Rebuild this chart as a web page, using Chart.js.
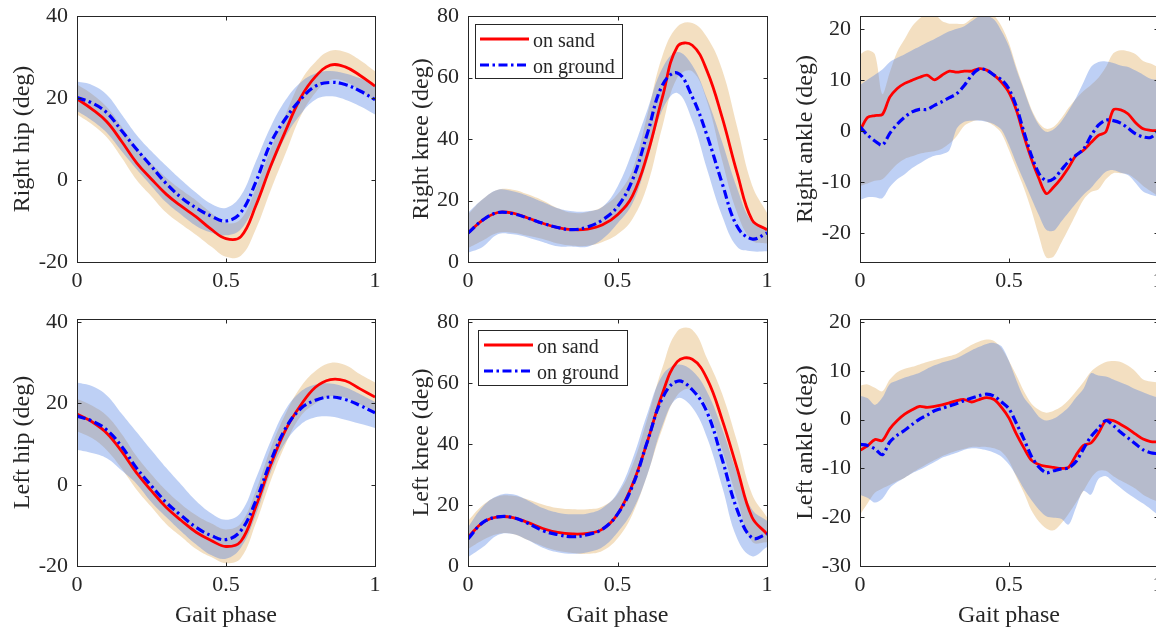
<!DOCTYPE html>
<html><head><meta charset="utf-8">
<script src="https://cdn.jsdelivr.net/npm/chart.js@4.4.1/dist/chart.umd.min.js"></script>
<style>
html,body{margin:0;padding:0;background:#fff;overflow:hidden;width:1156px;height:631px;position:relative}
canvas{position:absolute}
</style></head><body>
<script>
// ---------- data ----------
const phase21 = [0,0.05,0.1,0.15,0.2,0.25,0.3,0.35,0.4,0.45,0.5,0.55,0.6,0.65,0.7,0.75,0.8,0.85,0.9,0.95,1];
const phase41 = [0,0.025,0.05,0.075,0.1,0.125,0.15,0.175,0.2,0.225,0.25,0.275,0.3,0.325,0.35,0.375,0.4,0.425,0.45,0.475,0.5,0.525,0.55,0.575,0.6,0.625,0.65,0.675,0.7,0.725,0.75,0.775,0.8,0.825,0.85,0.875,0.9,0.925,0.95,0.975,1];
const xTickValues = [0, 0.5, 1];
const xTickLabels = ['0', '0.5', '1'];
const seriesLabels = ['on sand', 'on ground'];
const yTitles = ['Right hip (deg)', 'Right knee (deg)', 'Right ankle (deg)', 'Left hip (deg)', 'Left knee (deg)', 'Left ankle (deg)'];
const xTitleText = 'Gait phase';
const hipTicks = [-20, 0, 20, 40];
const kneeTicks = [0, 20, 40, 60, 80];
const rAnkleTicks = [-20, -10, 0, 10, 20];
const lAnkleTicks = [-30, -20, -10, 0, 10, 20];
const yRanges = [[-20, 40], [0, 80], [-25.7, 22.5], [-20, 40.8], [0, 81], [-30, 20.6]];

// Right hip
const rHipSand     = [19.8, 17.3, 14.2, 9.4, 4.2, 0.2, -3.5, -6.4, -9.0, -12.0, -14.3, -13.8, -6.3, 3.4, 12.0, 20.0, 25.2, 28.0, 27.6, 25.5, 22.9];
const rHipSandHi   = [23.3, 21.0, 17.8, 13.0, 8.0, 4.0, 0.5, -2.4, -5.0, -8.0, -10.5, -9.5, -2.0, 7.5, 16.0, 24.0, 28.8, 31.5, 31.2, 29.2, 26.5];
const rHipSandLo   = [16.0, 13.6, 10.4, 5.4, 0.0, -4.0, -8.0, -10.8, -13.4, -16.2, -18.7, -18.5, -12.0, -2.5, 6.5, 15.5, 21.3, 24.4, 24.0, 21.8, 19.3];
const rHipGround   = [20.1, 18.8, 16.4, 12.0, 7.5, 3.3, -0.9, -4.3, -6.8, -8.8, -10.0, -7.9, -0.5, 9.0, 15.0, 19.6, 22.9, 23.8, 23.3, 21.7, 19.6];
const rHipGroundHi = [24.0, 23.2, 20.8, 16.0, 11.0, 7.0, 3.4, 0.0, -3.1, -5.8, -6.8, -3.8, 4.5, 13.0, 19.5, 23.8, 26.0, 26.6, 26.0, 24.8, 23.2];
const rHipGroundLo = [16.8, 14.5, 11.5, 7.0, 2.6, -1.5, -5.5, -8.5, -11.2, -12.8, -13.5, -12.0, -5.6, 2.5, 10.6, 16.0, 19.6, 20.4, 19.6, 18.0, 16.0];

// Right knee
const rKneeSand     = [9.4, 13.7, 16.1, 15.9, 14.3, 12.6, 11.2, 10.5, 10.7, 12.1, 15.4, 21.5, 35.0, 53.5, 70.0, 70.5, 62.0, 47.0, 29.0, 13.7, 10.5];
const rKneeSandHi   = [15.5, 20.5, 23.5, 23.5, 22.0, 20.0, 17.5, 16.0, 16.3, 18.0, 22.0, 30.0, 48.0, 67.0, 76.5, 77.7, 73.0, 62.5, 44.0, 25.0, 16.0];
const rKneeSandLo   = [4.5, 7.0, 9.5, 9.5, 8.5, 7.5, 6.0, 5.3, 5.3, 6.5, 9.0, 14.0, 25.0, 44.0, 60.0, 62.0, 52.0, 33.0, 16.0, 7.0, 6.0];
const rKneeGround   = [9.4, 13.7, 16.1, 15.7, 14.3, 12.6, 11.2, 10.5, 11.4, 13.7, 18.0, 26.7, 41.8, 57.5, 61.5, 53.7, 41.0, 25.6, 11.6, 7.5, 9.4];
const rKneeGroundHi = [16.0, 20.5, 23.5, 23.0, 21.5, 19.5, 17.5, 16.5, 16.5, 18.0, 24.5, 36.0, 49.5, 63.0, 68.3, 64.0, 53.0, 39.0, 24.0, 13.0, 11.0];
const rKneeGroundLo = [3.0, 5.0, 9.0, 9.0, 8.0, 6.5, 5.1, 5.0, 5.0, 7.5, 12.5, 19.0, 33.0, 49.5, 55.0, 46.0, 30.0, 15.0, 5.0, 3.5, 3.5];

// Right ankle
const rAnkleSand     = [0, 2.6, 3.0, 3.2, 6.6, 8.3, 9.3, 9.9, 10.5, 10.9, 10.0, 10.9, 11.7, 11.5, 11.7, 11.7, 12.2, 11.9, 10.9, 9.5, 7.5, 4.0, -1.0, -5.5, -9.3, -12.3, -11.0, -9.3, -7.2, -4.8, -3.8, -2.3, -0.9, -0.2, 4.1, 4.1, 3.3, 1.6, 0.4, 0.1, 0];
const rAnkleSandHi   = [15.0, 15.8, 15.0, 7.2, 11.5, 15.5, 18.0, 20.5, 22.0, 23.0, 23.0, 21.5, 21.0, 21.0, 21.0, 22.0, 23.0, 23.0, 22.5, 20.5, 17.2, 12.5, 8.3, 4.3, 1.6, 0.4, 0.8, 2.4, 4.5, 6.3, 7.8, 9.0, 10.4, 12.5, 15.2, 15.8, 15.6, 15.0, 13.7, 13.2, 12.5];
const rAnkleSandLo   = [-10.8, -10.3, -9.8, -9.5, -8.0, -6.5, -5.5, -5.0, -4.5, -4.2, -4.0, -3.5, -2.5, -1.0, 1.0, 1.8, 2.1, 1.8, 1.0, -0.5, -3.8, -7.5, -11.2, -15.5, -20.5, -24.8, -24.6, -22.0, -19.2, -16.3, -13.5, -12.0, -11.5, -9.5, -8.3, -8.3, -8.5, -9.5, -10.8, -11.8, -12.8];
const rAnkleGround   = [0.8, -0.8, -2.0, -2.8, -0.5, 1.3, 2.7, 3.7, 4.2, 4.2, 5.0, 5.7, 6.5, 7.3, 8.9, 10.9, 12.1, 11.9, 10.9, 10.0, 8.2, 4.7, -0.2, -4.8, -8.3, -9.8, -9.4, -7.7, -6.0, -4.8, -3.6, -1.0, 1.1, 2.1, 2.0, 1.5, 0.5, -0.6, -1.2, -1.3, -0.3];
const rAnkleGroundHi = [9.0, 10.0, 11.0, 12.0, 13.5, 14.3, 15.0, 15.8, 16.5, 17.3, 18.0, 18.8, 19.5, 20.0, 20.5, 21.5, 22.4, 22.5, 21.8, 19.5, 16.5, 12.0, 8.0, 4.0, 1.2, -0.2, 0.3, 1.8, 4.0, 6.5, 9.5, 12.5, 13.5, 13.6, 13.3, 12.8, 12.5, 11.8, 11.0, 10.2, 10.0];
const rAnkleGroundLo = [-13.5, -13.0, -13.0, -13.2, -11.0, -9.5, -8.5, -7.3, -6.4, -5.5, -4.9, -4.6, -3.8, 0.5, 1.8, 2.0, 2.0, 1.8, 1.3, 0.2, -2.8, -6.4, -9.8, -13.2, -16.5, -19.4, -19.6, -17.8, -16.0, -14.2, -12.5, -11.2, -9.5, -8.0, -7.7, -8.2, -8.7, -10.2, -11.9, -12.5, -12.9];

// Left hip
const lHipSand     = [17.4, 15.5, 12.7, 8.2, 2.9, -1.5, -5.6, -8.8, -11.7, -13.7, -15.2, -13.9, -5.4, 4.9, 13.5, 19.5, 24.0, 25.9, 25.6, 23.6, 21.6];
const lHipSandHi   = [21.2, 19.5, 17.0, 12.5, 7.0, 2.5, -1.5, -4.8, -7.5, -9.5, -11.0, -9.5, -1.5, 9.0, 17.5, 24.0, 28.0, 30.0, 29.5, 27.2, 25.2];
const lHipSandLo   = [13.2, 11.5, 8.5, 4.0, -1.2, -5.5, -9.7, -12.8, -15.8, -17.8, -19.3, -18.0, -9.5, 1.0, 10.0, 16.8, 20.0, 21.8, 21.5, 19.8, 18.0];
const lHipGround   = [16.9, 15.7, 13.5, 9.4, 4.1, -0.3, -4.4, -7.6, -10.5, -12.5, -13.5, -11.3, -4.0, 5.8, 13.9, 18.7, 20.8, 21.6, 21.0, 19.5, 17.7];
const lHipGroundHi = [25.2, 24.3, 22.0, 17.5, 13.0, 8.5, 4.1, 0.0, -4.0, -7.0, -8.6, -6.8, 1.5, 10.8, 18.5, 22.9, 24.7, 24.9, 24.0, 22.3, 20.4];
const lHipGroundLo = [8.6, 7.8, 6.5, 3.5, 0.2, -4.3, -8.0, -11.5, -14.7, -17.3, -18.2, -15.5, -7.5, 3.0, 10.5, 14.8, 16.6, 16.8, 16.0, 15.0, 14.0];

// Left knee
const lKneeSand     = [9.4, 14.3, 16.1, 15.9, 14.3, 12.3, 11.0, 10.5, 10.7, 12.1, 17.0, 26.7, 40.8, 56.5, 67.0, 67.8, 61.3, 48.0, 32.0, 16.0, 10.5];
const lKneeSandHi   = [14.8, 20.0, 22.8, 23.0, 21.8, 20.2, 19.0, 18.6, 18.6, 19.5, 23.5, 33.0, 48.4, 65.0, 77.0, 77.5, 68.0, 56.5, 40.8, 23.5, 16.0];
const lKneeSandLo   = [5.5, 8.5, 10.5, 10.5, 8.5, 6.5, 5.0, 4.3, 4.0, 5.0, 9.0, 17.0, 30.0, 45.0, 56.0, 58.0, 52.0, 38.0, 22.0, 8.0, 7.8];
const lKneeGround   = [8.9, 14.3, 16.1, 15.9, 14.0, 11.6, 10.3, 9.6, 10.3, 12.1, 17.0, 26.2, 40.8, 55.0, 60.6, 57.8, 50.3, 35.0, 18.5, 9.2, 10.5];
const lKneeGroundHi = [12.7, 19.5, 23.0, 23.5, 21.5, 19.0, 17.5, 17.0, 17.2, 19.0, 24.0, 35.0, 50.0, 62.5, 66.0, 64.0, 57.0, 45.0, 30.5, 18.5, 14.8];
const lKneeGroundLo = [2.9, 6.2, 10.2, 10.5, 8.5, 6.0, 4.5, 4.0, 4.5, 6.2, 11.0, 18.0, 30.0, 46.0, 55.0, 52.0, 42.0, 26.0, 9.0, 3.2, 6.2];

// Left ankle
const lAnkleSand     = [-6.3, -5.4, -4.1, -4.3, -1.9, -0.2, 1.1, 2.0, 2.7, 2.5, 2.7, 3.0, 3.4, 3.9, 4.1, 3.6, 4.1, 4.5, 4.1, 2.5, 0.3, -3.0, -5.8, -8.3, -9.2, -9.6, -9.8, -10.0, -9.8, -7.3, -5.3, -4.8, -2.8, -0.2, -0.2, -1.0, -1.9, -3.0, -4.0, -4.5, -4.6];
const lAnkleSandHi   = [6.9, 7.2, 6.5, 5.8, 8.2, 9.7, 10.4, 10.8, 11.3, 11.8, 12.2, 12.6, 13.0, 13.5, 14.4, 15.3, 16.0, 16.4, 16.1, 14.6, 12.0, 9.0, 5.8, 3.3, 2.0, 1.4, 1.8, 2.6, 4.0, 5.8, 7.7, 9.8, 11.0, 11.8, 12.0, 11.8, 11.0, 9.8, 8.2, 7.8, 7.6];
const lAnkleSandLo   = [-19.5, -17.2, -15.0, -14.1, -13.4, -12.6, -11.9, -10.9, -10.0, -9.1, -8.3, -7.5, -6.9, -6.4, -6.0, -5.6, -5.6, -5.6, -5.9, -6.6, -8.5, -11.8, -15.0, -18.6, -20.9, -22.3, -22.7, -21.3, -19.3, -17.0, -14.6, -12.0, -10.5, -10.5, -11.6, -12.5, -13.3, -14.2, -15.4, -16.2, -16.8];
const lAnkleGround   = [-5.1, -5.3, -6.0, -7.2, -4.6, -3.2, -2.2, -1.0, 0.1, 0.9, 1.8, 2.3, 2.8, 3.3, 3.9, 4.4, 4.9, 5.2, 4.8, 3.6, 2.2, -0.8, -4.0, -7.5, -9.7, -10.9, -10.5, -10.1, -9.9, -8.6, -6.0, -3.5, -1.8, -0.2, -1.2, -2.6, -3.8, -5.0, -6.2, -6.8, -7.0];
const lAnkleGroundHi = [4.9, 4.4, 3.0, 4.5, 7.3, 8.0, 8.6, 9.1, 9.6, 10.4, 11.1, 11.7, 12.1, 12.6, 13.4, 14.2, 14.9, 15.5, 15.7, 15.0, 12.0, 8.0, 4.5, 2.6, 0.6, -0.2, 0.2, 1.2, 2.5, 4.5, 6.3, 9.5, 9.0, 8.8, 8.2, 7.6, 7.0, 6.2, 5.6, 5.0, 4.5];
const lAnkleGroundLo = [-15.4, -16.0, -17.0, -16.2, -14.0, -12.8, -11.9, -11.0, -10.3, -9.5, -8.7, -7.8, -7.3, -6.8, -6.2, -5.9, -6.0, -6.3, -6.8, -7.6, -9.2, -11.5, -14.2, -16.5, -18.4, -19.8, -20.1, -20.3, -21.5, -18.0, -14.6, -15.4, -12.2, -11.6, -12.8, -14.0, -15.2, -16.2, -17.2, -18.3, -19.5];

// ---------- styling / layout ----------
const FONT = "'Liberation Serif', 'Times New Roman', serif";
const TXT = '#262626';
const RED = '#ff0000';
const BLUE = '#0000ff';
const TAN_FILL = 'rgba(221,164,78,0.35)';
const BLUE_FILL = 'rgba(69,121,226,0.35)';
const DASHDOT = [9, 3.5, 2.5, 3.5];

const plotRects = [
  {l:77, t:16, r:375, b:262}, {l:468, t:16, r:767, b:262}, {l:860, t:16, r:1158, b:262},
  {l:77, t:319, r:375, b:566}, {l:468, t:319, r:767, b:566}, {l:860, t:319, r:1158, b:566}
];
const titlePad = [8, 16, 8.6];
const Y_AXIS_W = 77, X_AXIS_H = 65, PAD_TOP = 26, PAD_RIGHT = 22;

const panels = [
  {xm: phase21, xb: phase21, s: rHipSand, sHi: rHipSandHi, sLo: rHipSandLo, g: rHipGround, gHi: rHipGroundHi, gLo: rHipGroundLo, ticks: hipTicks, tension: 0.4},
  {xm: phase21, xb: phase21, s: rKneeSand, sHi: rKneeSandHi, sLo: rKneeSandLo, g: rKneeGround, gHi: rKneeGroundHi, gLo: rKneeGroundLo, ticks: kneeTicks, tension: 0.4,
   legend: {dx: 7, dy: 8, w: 147, h: 54, lx0: 5, lx1: 54, rows: [15, 41], tx: 58}},
  {xm: phase41, xb: phase41, s: rAnkleSand, sHi: rAnkleSandHi, sLo: rAnkleSandLo, g: rAnkleGround, gHi: rAnkleGroundHi, gLo: rAnkleGroundLo, ticks: rAnkleTicks, tension: 0.3},
  {xm: phase21, xb: phase21, s: lHipSand, sHi: lHipSandHi, sLo: lHipSandLo, g: lHipGround, gHi: lHipGroundHi, gLo: lHipGroundLo, ticks: hipTicks, tension: 0.4},
  {xm: phase21, xb: phase21, s: lKneeSand, sHi: lKneeSandHi, sLo: lKneeSandLo, g: lKneeGround, gHi: lKneeGroundHi, gLo: lKneeGroundLo, ticks: kneeTicks, tension: 0.4,
   legend: {dx: 10, dy: 11, w: 149, h: 55, lx0: 6, lx1: 55, rows: [15, 41], tx: 59}},
  {xm: phase41, xb: phase41, s: lAnkleSand, sHi: lAnkleSandHi, sLo: lAnkleSandLo, g: lAnkleGround, gHi: lAnkleGroundHi, gLo: lAnkleGroundLo, ticks: lAnkleTicks, tension: 0.3}
];

function pts(xs, ys) { return xs.map((x, i) => ({x: x, y: ys[i]})); }

const framePlugin = {
  id: 'frame',
  afterDatasetsDraw(chart) {
    const {ctx, chartArea: a, scales} = chart;
    const x = scales.x, y = scales.y;
    ctx.save();
    ctx.strokeStyle = TXT; ctx.lineWidth = 1;
    const L = Math.round(a.left) + 0.5, T = Math.round(a.top) + 0.5, R = Math.round(a.right) + 0.5, B = Math.round(a.bottom) + 0.5;
    ctx.strokeRect(L, T, R - L, B - T);
    const tl = 4;
    ctx.beginPath();
    x.ticks.forEach(t => { const px = Math.round(x.getPixelForValue(t.value)) + 0.5; ctx.moveTo(px, B); ctx.lineTo(px, B - tl); ctx.moveTo(px, T); ctx.lineTo(px, T + tl); });
    y.ticks.forEach(t => { const py = Math.round(y.getPixelForValue(t.value)) + 0.5; ctx.moveTo(L, py); ctx.lineTo(L + tl, py); ctx.moveTo(R, py); ctx.lineTo(R - tl, py); });
    ctx.stroke();
    ctx.restore();
  }
};

const legendPlugin = {
  id: 'gaitLegend',
  afterDraw(chart, args, opts) {
    const lg = opts && opts.cfg;
    if (!lg) return;
    const {ctx, chartArea: a} = chart;
    const bx = Math.round(a.left + lg.dx), by = Math.round(a.top + lg.dy);
    ctx.save();
    ctx.fillStyle = '#ffffff';
    ctx.fillRect(bx, by, lg.w, lg.h);
    ctx.strokeStyle = TXT; ctx.lineWidth = 1;
    ctx.strokeRect(bx + 0.5, by + 0.5, lg.w, lg.h);
    seriesLabels.forEach((lab, i) => {
      const ds = chart.data.datasets.find(d => d.label === lab);
      const ly = by + lg.rows[i];
      ctx.strokeStyle = ds.borderColor; ctx.lineWidth = ds.borderWidth;
      ctx.setLineDash(ds.borderDash || []);
      ctx.beginPath(); ctx.moveTo(bx + lg.lx0, ly); ctx.lineTo(bx + lg.lx1, ly); ctx.stroke();
      ctx.setLineDash([]);
      ctx.fillStyle = TXT; ctx.font = '20px ' + FONT; ctx.textBaseline = 'alphabetic'; ctx.textAlign = 'left';
      ctx.fillText(lab, bx + lg.tx, ly + 8);
    });
    ctx.restore();
  }
};

panels.forEach((p, idx) => {
  const rect = plotRects[idx];
  const col = idx % 3, row = Math.floor(idx / 3);
  const cv = document.createElement('canvas');
  const W = rect.r - rect.l + Y_AXIS_W + PAD_RIGHT;
  const H = rect.b - rect.t + PAD_TOP + X_AXIS_H;
  cv.width = W; cv.height = H;
  cv.style.left = (rect.l - Y_AXIS_W) + 'px';
  cv.style.top = (rect.t - PAD_TOP) + 'px';
  cv.style.width = W + 'px'; cv.style.height = H + 'px';
  document.body.appendChild(cv);

  const datasets = [
    {label: seriesLabels[1], data: pts(p.xm, p.g), borderColor: BLUE, borderWidth: 3.2, borderDash: DASHDOT, pointRadius: 0, fill: false, tension: p.tension},
    {label: seriesLabels[0], data: pts(p.xm, p.s), borderColor: RED, borderWidth: 2.8, pointRadius: 0, fill: false, tension: p.tension},
    {label: 'ground upper', data: pts(p.xb, p.gHi), borderWidth: 0, borderColor: 'transparent', backgroundColor: BLUE_FILL, pointRadius: 0, fill: '+1', tension: p.tension},
    {label: 'ground lower', data: pts(p.xb, p.gLo), borderWidth: 0, borderColor: 'transparent', pointRadius: 0, fill: false, tension: p.tension},
    {label: 'sand upper', data: pts(p.xb, p.sHi), borderWidth: 0, borderColor: 'transparent', backgroundColor: TAN_FILL, pointRadius: 0, fill: '+1', tension: p.tension},
    {label: 'sand lower', data: pts(p.xb, p.sLo), borderWidth: 0, borderColor: 'transparent', pointRadius: 0, fill: false, tension: p.tension}
  ];

  new Chart(cv.getContext('2d'), {
    type: 'line',
    data: {datasets: datasets},
    plugins: [framePlugin, legendPlugin],
    options: {
      responsive: false, animation: false, devicePixelRatio: 1, events: [],
      layout: {padding: {left: 0, top: PAD_TOP, right: PAD_RIGHT, bottom: 0}},
      plugins: {legend: {display: false}, tooltip: {enabled: false}, gaitLegend: {cfg: p.legend || null}},
      scales: {
        x: {
          type: 'linear', min: 0, max: 1,
          grid: {display: false, drawTicks: false}, border: {display: false},
          ticks: {font: {family: FONT, size: 22}, color: TXT, padding: 6, autoSkip: false, maxRotation: 0,
                  callback: (v) => { const k = xTickValues.indexOf(v); return k >= 0 ? xTickLabels[k] : ''; }},
          afterBuildTicks: s => { s.ticks = xTickValues.map(v => ({value: v})); },
          afterFit: s => { s.height = X_AXIS_H; },
          title: {display: row === 1, text: xTitleText, font: {family: FONT, size: 24}, color: TXT, padding: {top: 0, bottom: 1}}
        },
        y: {
          type: 'linear', min: yRanges[idx][0], max: yRanges[idx][1],
          grid: {display: false, drawTicks: false}, border: {display: false},
          ticks: {font: {family: FONT, size: 22}, color: TXT, padding: 9, autoSkip: false},
          afterBuildTicks: s => { s.ticks = p.ticks.map(v => ({value: v})); },
          afterFit: s => { s.width = Y_AXIS_W; },
          title: {display: true, text: yTitles[idx], font: {family: FONT, size: 24}, color: TXT, padding: {top: titlePad[col], bottom: 0}}
        }
      }
    }
  });
});
</script>
</body></html>
